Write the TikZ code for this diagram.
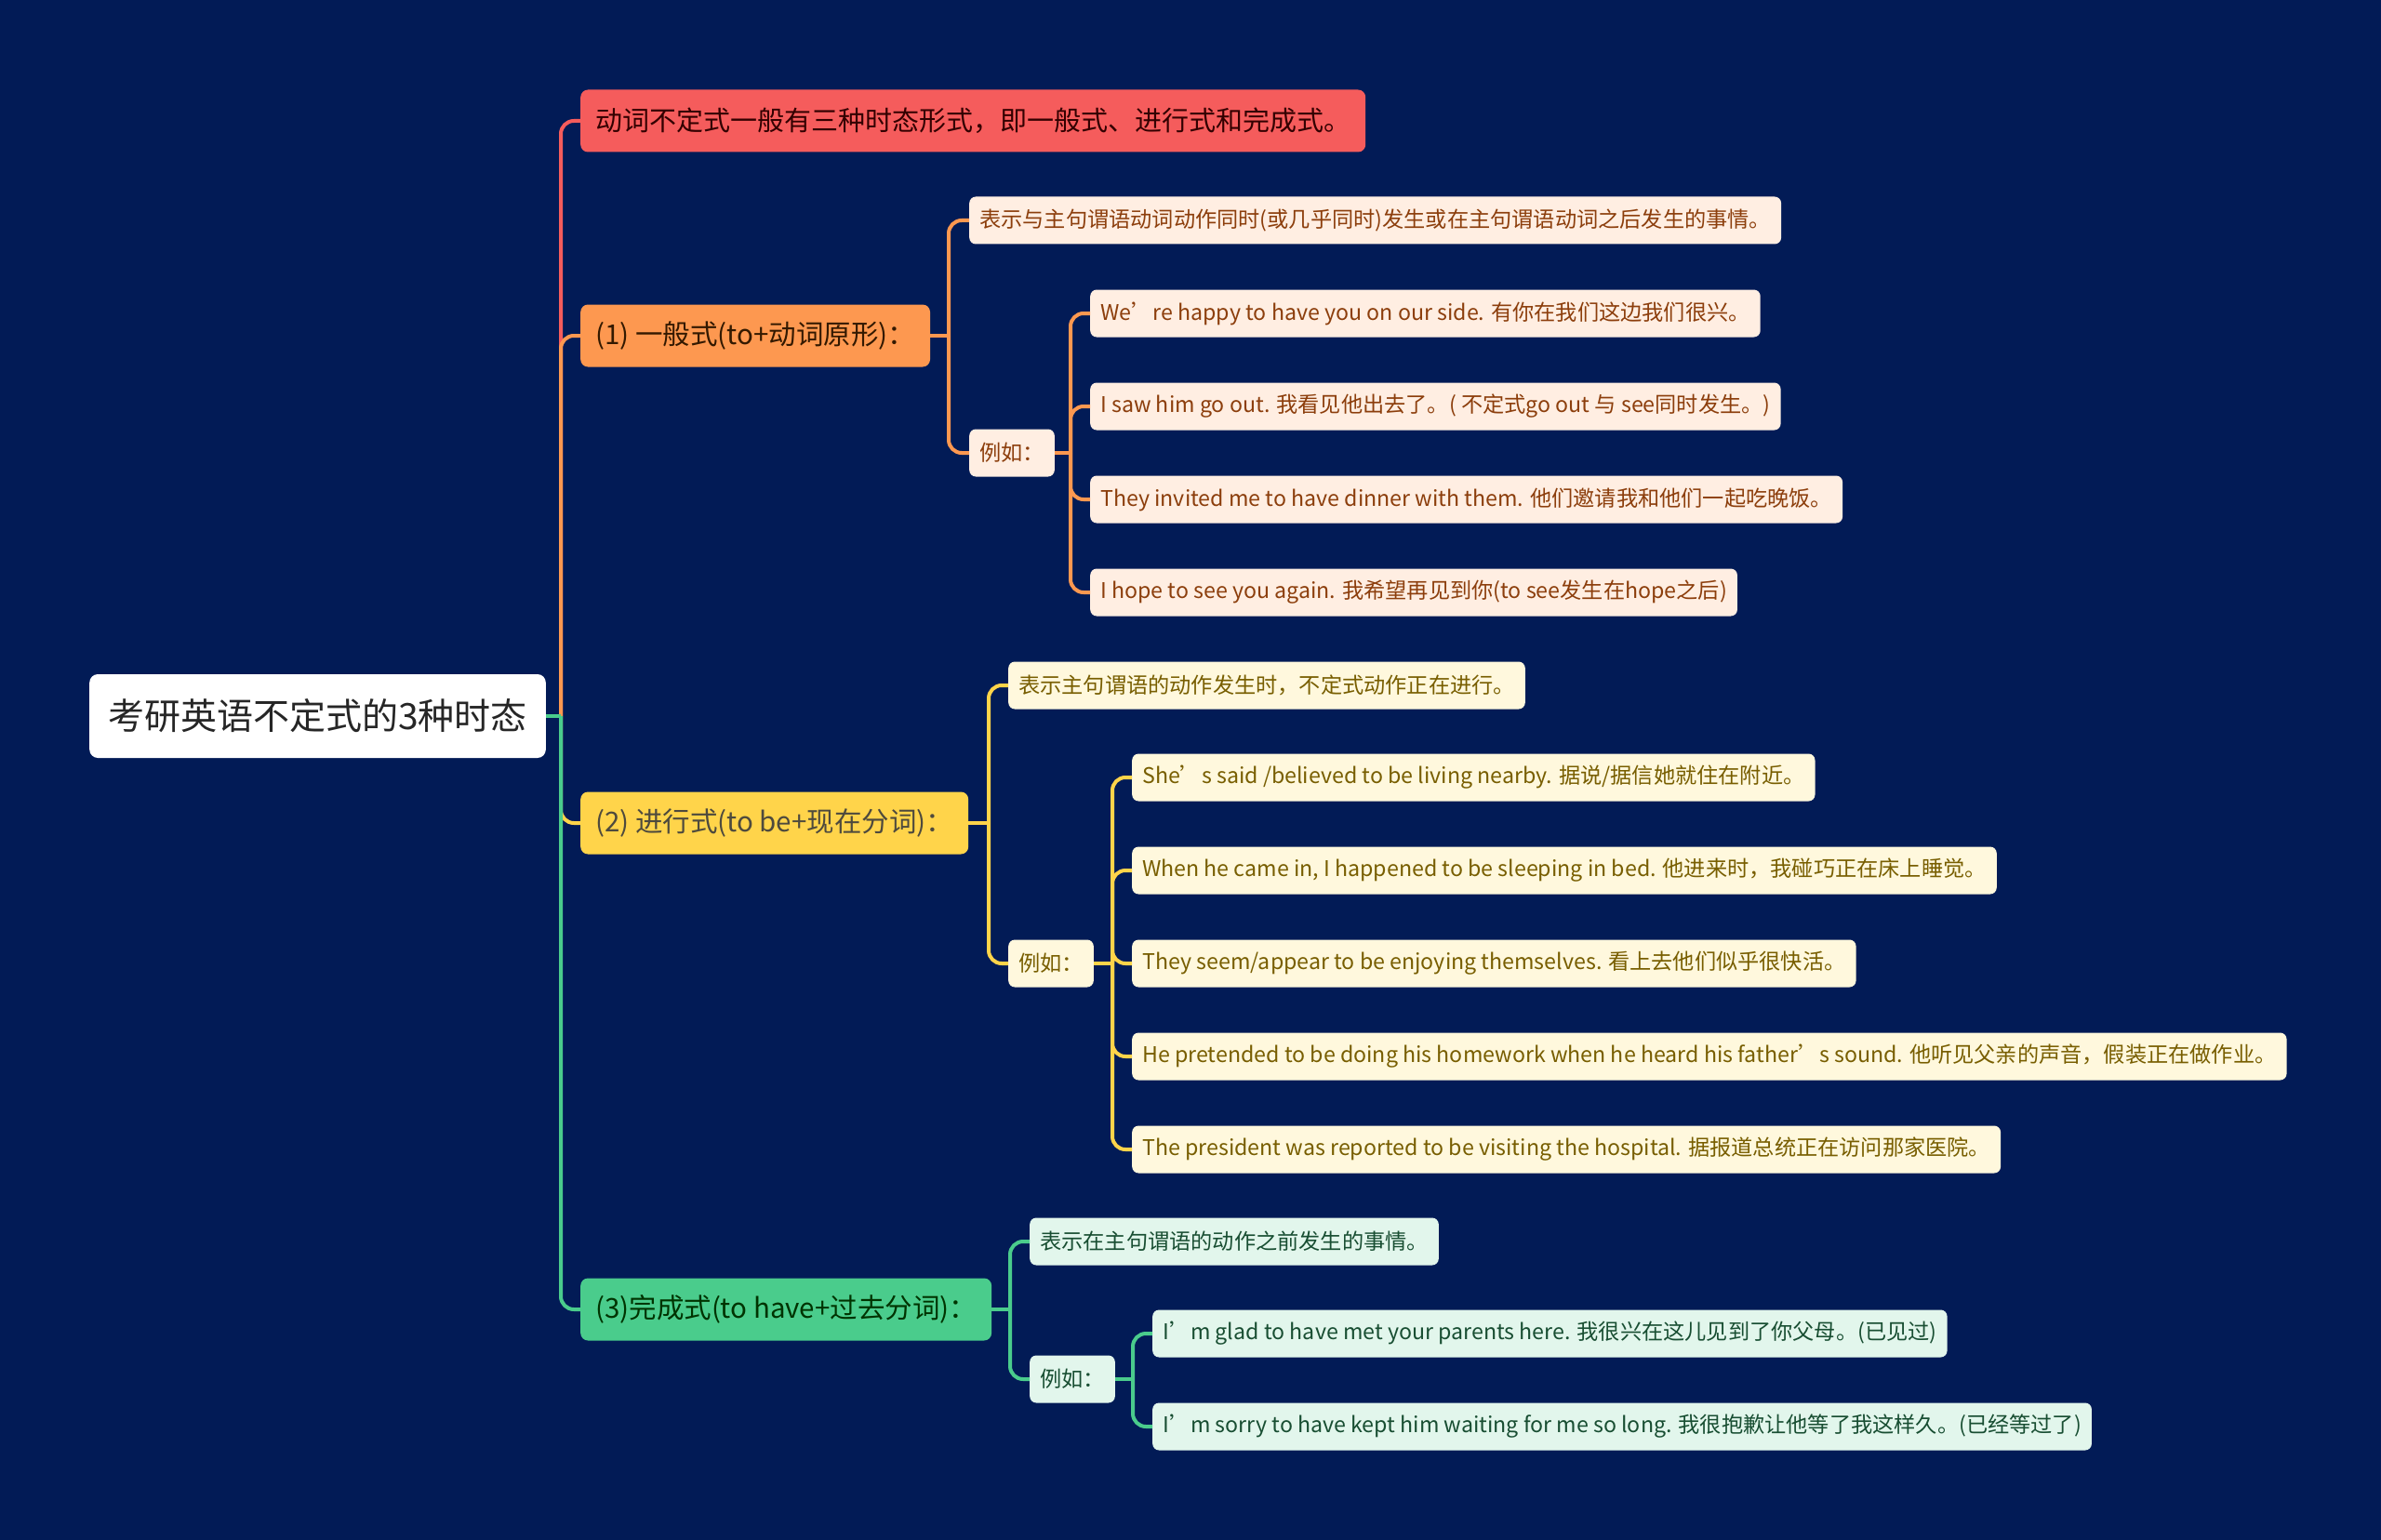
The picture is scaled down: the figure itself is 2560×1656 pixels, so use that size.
\documentclass[tikz,border=0pt]{standalone}
\usepackage{fontspec}
\setmainfont{Noto Sans CJK SC}
\definecolor{bgnavy}{RGB}{2,27,86}
\definecolor{cRed}{RGB}{245,92,92}
\definecolor{cOrg}{RGB}{253,152,80}
\definecolor{cYel}{RGB}{255,212,74}
\definecolor{cGrn}{RGB}{74,204,140}
\definecolor{lOrg}{RGB}{255,238,226}
\definecolor{lYel}{RGB}{255,248,221}
\definecolor{lGrn}{RGB}{226,246,236}
\definecolor{tOrg}{RGB}{140,62,12}
\definecolor{tYel}{RGB}{120,94,0}
\definecolor{tGrn}{RGB}{24,78,50}
\tikzset{
  rootbox/.style = {anchor=west, fill=white, text=black!85, rounded corners=9,
                    minimum height=90, inner xsep=20, font=\fontsize{39}{46}\selectfont},
  topic/.style   = {anchor=west, rounded corners=8, minimum height=67, inner xsep=16,
                    font=\fontsize{29.5}{35}\selectfont},
  sub/.style     = {anchor=west, rounded corners=7, minimum height=51, inner xsep=11,
                    font=\fontsize{23.2}{28}\selectfont},
  redtopic/.style = {topic, fill=cRed, text=black!80!red, font=\fontsize{29}{35}\selectfont},
  orgtopic/.style = {topic, fill=cOrg, text=black!80!orange},
  yeltopic/.style = {topic, fill=cYel, text=black!80!yellow},
  grntopic/.style = {topic, fill=cGrn, text=black!80!green},
  orgsub/.style = {sub, fill=lOrg, text=tOrg},
  yelsub/.style = {sub, fill=lYel, text=tYel},
  grnsub/.style = {sub, fill=lGrn, text=tGrn},
  link/.style = {line width=4, rounded corners=14},
  redlink/.style = {link, draw=cRed},
  orglink/.style = {link, draw=cOrg},
  yellink/.style = {link, draw=cYel},
  grnlink/.style = {link, draw=cGrn},
}

\begin{document}
\begin{tikzpicture}[x=1pt,y=1pt]
\fill[bgnavy] (0,0) rectangle (2560,-1656);
\useasboundingbox (0,0) rectangle (2560,-1656);

%── root and first level ─────────────────────────────
\node[rootbox] (root) at (96,-770) {考研英语不定式的3种时态};
\node[redtopic] (a) at (624,-130) {动词不定式一般有三种时态形式，即一般式、进行式和完成式。};
\node[orgtopic] (b) at (624,-361) {(1) 一般式(to+动词原形)：};
\node[yeltopic] (c) at (624,-885) {(2) 进行式(to be+现在分词)：};
\node[grntopic] (d) at (624,-1408) {(3)完成式(to have+过去分词)：};

%── (1) general form ─────────────────────────────────
\node[orgsub] (b1) at (1042,-237) {表示与主句谓语动词动作同时(或几乎同时)发生或在主句谓语动词之后发生的事情。};
\node[orgsub] (b2) at (1042,-487) {例如：};
\node[orgsub] (b21) at (1172,-337) {We’re happy to have you on our side. 有你在我们这边我们很兴。};
\node[orgsub] (b22) at (1172,-437) {I saw him go out. 我看见他出去了。( 不定式go out 与 see同时发生。)};
\node[orgsub] (b23) at (1172,-537) {They invited me to have dinner with them.  他们邀请我和他们一起吃晚饭。};
\node[orgsub] (b24) at (1172,-637) {I hope to see you again. 我希望再见到你(to see发生在hope之后)};

%── (2) progressive form ─────────────────────────────
\node[yelsub] (c1) at (1084,-737) {表示主句谓语的动作发生时，不定式动作正在进行。};
\node[yelsub] (c2) at (1084,-1036) {例如：};
\node[yelsub] (c21) at (1217,-836) {She’s said /believed to be living nearby. 据说/据信她就住在附近。};
\node[yelsub] (c22) at (1217,-936) {When he came in, I happened to be sleeping in bed. 他进来时，我碰巧正在床上睡觉。};
\node[yelsub] (c23) at (1217,-1036) {They seem/appear to be enjoying themselves. 看上去他们似乎很快活。};
\node[yelsub] (c24) at (1217,-1136) {He pretended to be doing his homework when he heard his father’s sound. 他听见父亲的声音，假装正在做作业。};
\node[yelsub] (c25) at (1217,-1236) {The president was reported to be visiting the hospital. 据报道总统正在访问那家医院。};

%── (3) perfect form ─────────────────────────────────
\node[grnsub] (d1) at (1107,-1335) {表示在主句谓语的动作之前发生的事情。};
\node[grnsub] (d2) at (1107,-1483) {例如：};
\node[grnsub] (d21) at (1239,-1434) {I’m glad to have met your parents here. 我很兴在这儿见到了你父母。(已见过)};
\node[grnsub] (d22) at (1239,-1534) {I’m sorry to have kept him waiting for me so long. 我很抱歉让他等了我这样久。(已经等过了)};

%── connectors ───────────────────────────────────────
\coordinate (j0) at (603,-770);
\draw[redlink] (j0) |- (a.west);
\draw[orglink] (j0) |- (b.west);
\draw[yellink] (j0) |- (c.west);
\draw[grnlink] (j0) |- (d.west);
\draw[grnlink] (root.east) -- (j0);

\coordinate (jb) at (1020,-361);
\draw[orglink] (b.east) -- (jb);
\foreach \n in {b1,b2} \draw[orglink] (jb) |- (\n.west);
\coordinate (jb2) at (1151,-487);
\draw[orglink] (b2.east) -- (jb2);
\foreach \n in {b21,b22,b23,b24} \draw[orglink] (jb2) |- (\n.west);

\coordinate (jc) at (1063,-885);
\draw[yellink] (c.east) -- (jc);
\foreach \n in {c1,c2} \draw[yellink] (jc) |- (\n.west);
\coordinate (jc2) at (1196,-1036);
\draw[yellink] (c2.east) -- (jc2);
\foreach \n in {c21,c22,c23,c24,c25} \draw[yellink] (jc2) |- (\n.west);

\coordinate (jd) at (1086,-1408);
\draw[grnlink] (d.east) -- (jd);
\foreach \n in {d1,d2} \draw[grnlink] (jd) |- (\n.west);
\coordinate (jd2) at (1218,-1483);
\draw[grnlink] (d2.east) -- (jd2);
\foreach \n in {d21,d22} \draw[grnlink] (jd2) |- (\n.west);

\end{tikzpicture}
\end{document}
